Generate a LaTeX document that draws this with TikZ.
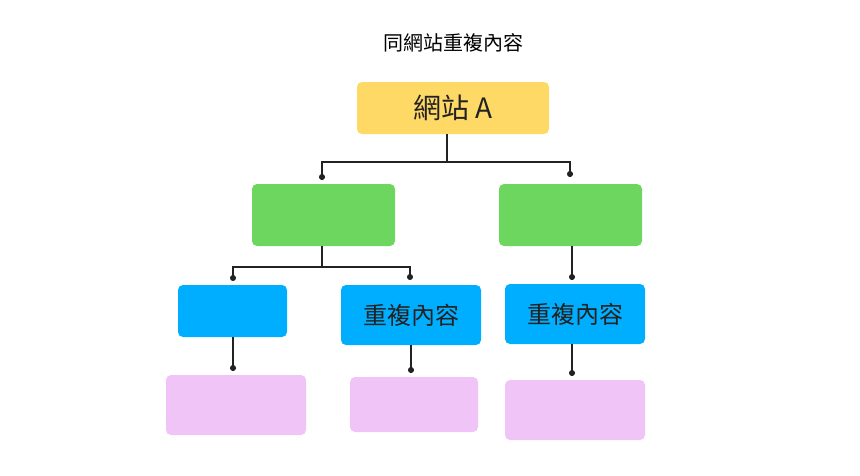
\documentclass[tikz,border=0pt]{standalone}
\usepackage{fontspec}
\setmainfont{Noto Sans CJK TC}
\usetikzlibrary{arrows.meta}
\definecolor{boxyellow}{RGB}{255,217,102}
\definecolor{boxgreen}{RGB}{108,214,94}
\definecolor{boxblue}{RGB}{0,174,255}
\definecolor{boxpink}{RGB}{241,196,248}
\definecolor{inkdark}{RGB}{34,34,34}
\tikzset{every picture/.style={line width=0.75pt}}
\tikzset{
  box/.style={draw=none,rounded corners=5pt,inner sep=0pt,text=inkdark},
  link/.style={draw=inkdark,line width=1.5pt,-{Circle[length=6pt]}},
}

\begin{document}
\begin{tikzpicture}[x=1pt,y=1pt,yscale=-1,xscale=1]
\useasboundingbox (0,0) rectangle (860,475);

% Title
\node (title) at (453,43) {\fontsize{20}{24}\selectfont 同網站重複內容};

% Root
\node[box,fill=boxyellow,minimum width=192pt,minimum height=52pt,font=\fontsize{28}{32}\selectfont] (site) at (453,108) {網站 A};

% Second level
\node[box,fill=boxgreen,minimum width=143pt,minimum height=62pt] (gl) at (323.5,215) {};
\node[box,fill=boxgreen,minimum width=143pt,minimum height=62pt] (gr) at (570.5,215) {};

% Third level
\node[box,fill=boxblue,minimum width=109pt,minimum height=52pt] (ba) at (232.5,311) {};
\node[box,fill=boxblue,minimum width=140pt,minimum height=60pt,font=\fontsize{24}{28}\selectfont] (bb) at (411,315) {重複內容};
\node[box,fill=boxblue,minimum width=140pt,minimum height=60pt,font=\fontsize{24}{28}\selectfont] (bc) at (575,314) {重複內容};

% Fourth level
\node[box,fill=boxpink,minimum width=140pt,minimum height=60pt] (pa) at (236,405) {};
\node[box,fill=boxpink,minimum width=128pt,minimum height=55pt] (pb) at (414,404.5) {};
\node[box,fill=boxpink,minimum width=140pt,minimum height=60pt] (pc) at (575,410) {};

% Connectors
\coordinate (j1) at (447,162);
\coordinate (j2) at (322,267);
\draw[inkdark,line width=1.5pt] (site.south -| j1) -- (j1);
\draw[link] (j1) -| (322,180);
\draw[link] (j1) -| (570,177);
\draw[inkdark,line width=1.2pt] (gl.south -| j2) -- (j2);
\draw[link,line width=1.2pt] (j2) -| (233,281);
\draw[link,line width=1.2pt] (j2) -| (410,280);
\draw[link] (572,246) -- (572,280);
\draw[link] (233,337) -- (233,371);
\draw[link] (411,345) -- (411,373);
\draw[link] (572,344) -- (572,376);

\end{tikzpicture}
\end{document}
